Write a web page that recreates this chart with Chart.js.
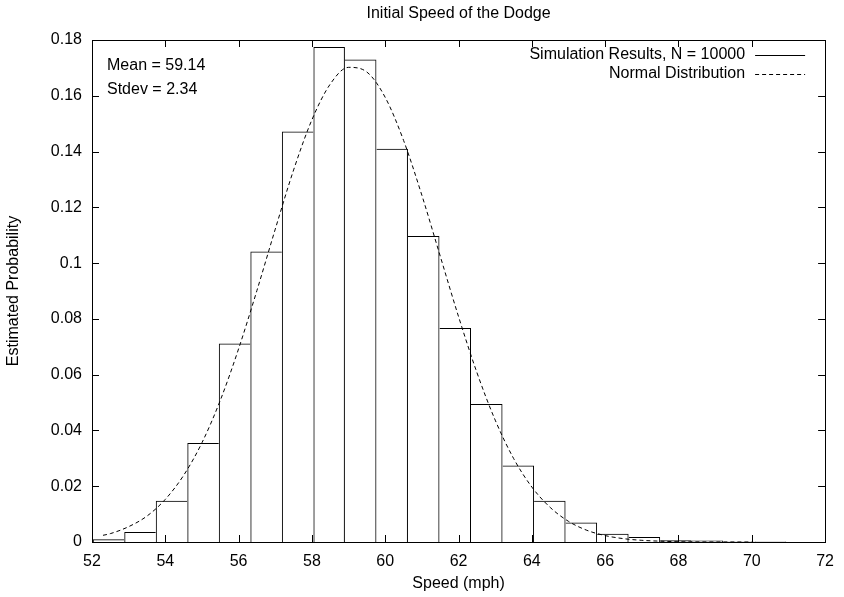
<!DOCTYPE html>
<html>
<head>
<meta charset="utf-8">
<script src="https://cdn.jsdelivr.net/npm/chart.js@4.4.0/dist/chart.umd.min.js"></script>
<style>
  html, body { margin: 0; padding: 0; background: #fff; }
  #wrap { width: 844px; height: 597px; }
</style>
</head>
<body>
<div id="wrap"><canvas id="histChart"></canvas></div>
<script>
// histogram: bin centres (bins are ~0.86 mph wide) and estimated probability
var binCenters = [52.45, 53.31, 54.17, 55.03, 55.89, 56.75, 57.61, 58.47, 59.33, 60.19, 61.05,
                  61.91, 62.77, 63.63, 64.49, 65.35, 66.21, 67.07, 67.93, 68.79, 69.65, 70.51];
var binProbs = [0.0010, 0.0036, 0.0148, 0.0355, 0.0712, 0.1042, 0.1472, 0.1775, 0.1730, 0.1410, 0.1097,
                0.0767, 0.0495, 0.0274, 0.0148, 0.0070, 0.0030, 0.0018, 0.0006, 0.0005, 0.0002, 0.0002];

// normal distribution curve
var curveX = [52.3, 52.5, 53, 53.5, 54, 54.5, 55, 55.5, 56, 56.5, 57, 57.5, 58, 58.5, 59, 59.5, 60,
              60.5, 61, 61.5, 62, 62.5, 63, 63.5, 64, 64.5, 65, 65.5, 66, 66.5, 67, 67.5, 68, 69, 70];
var curveY = [0.0024, 0.0030, 0.0055, 0.0093, 0.0153, 0.0239, 0.0356, 0.0508, 0.0693, 0.0902, 0.1122,
              0.1334, 0.1514, 0.1642, 0.1702, 0.1685, 0.1594, 0.1440, 0.1243, 0.1025, 0.0808, 0.0608,
              0.0437, 0.0300, 0.0197, 0.0124, 0.0074, 0.0042, 0.0023, 0.0012, 0.0006, 0.0003, 0.0001,
              0.00002, 0.0];

var xTicks = [52, 54, 56, 58, 60, 62, 64, 66, 68, 70, 72];
var yTicks = [0, 0.02, 0.04, 0.06, 0.08, 0.1, 0.12, 0.14, 0.16, 0.18];

var statLines = ["Mean = 59.14", "Stdev = 2.34"];
var legendLabels = ["Simulation Results, N = 10000", "Normal Distribution"];

var FONT = '"Liberation Sans", Arial, Helvetica, sans-serif';
var tickLen = 7;

// gnuplot style frame: box, inward ticks on all sides, key and stats text
var gnuFrame = {
  id: "gnuFrame",
  afterDatasetsDraw: function (chart) {
    var ctx = chart.ctx;
    var a = chart.chartArea;
    var xs = chart.scales.x;
    var ys = chart.scales.y;
    ctx.save();
    ctx.strokeStyle = "#000";
    ctx.lineWidth = 1;
    ctx.setLineDash([]);
    ctx.beginPath();
    xTicks.forEach(function (v) {
      var px = Math.round(xs.getPixelForValue(v)) + 0.5;
      ctx.moveTo(px, a.bottom);
      ctx.lineTo(px, a.bottom - tickLen);
      ctx.moveTo(px, a.top);
      ctx.lineTo(px, a.top + tickLen);
    });
    yTicks.forEach(function (v) {
      var py = Math.round(ys.getPixelForValue(v)) + 0.5;
      ctx.moveTo(a.left, py);
      ctx.lineTo(a.left + tickLen, py);
      ctx.moveTo(a.right, py);
      ctx.lineTo(a.right - tickLen, py);
    });
    ctx.stroke();
    ctx.strokeRect(Math.round(a.left) + 0.5, Math.round(a.top) + 0.5,
                   Math.round(a.right - a.left), Math.round(a.bottom - a.top));

    ctx.fillStyle = "#000";
    ctx.font = "16px " + FONT;
    ctx.textBaseline = "middle";
    ctx.textAlign = "left";
    ctx.fillText(statLines[0], a.left + 15, a.top + 26);
    ctx.fillText(statLines[1], a.left + 15, a.top + 50);

    // key
    ctx.textAlign = "right";
    ctx.fillText(legendLabels[0], a.right - 80, a.top + 15);
    ctx.fillText(legendLabels[1], a.right - 80, a.top + 34);
    ctx.beginPath();
    ctx.moveTo(a.right - 70, a.top + 15.5);
    ctx.lineTo(a.right - 20, a.top + 15.5);
    ctx.stroke();
    ctx.setLineDash([4, 3]);
    ctx.beginPath();
    ctx.moveTo(a.right - 70, a.top + 34.5);
    ctx.lineTo(a.right - 20, a.top + 34.5);
    ctx.stroke();
    ctx.restore();
  }
};

// draw each shared bar edge only once, by the taller neighbour
function edgeWidths(context) {
  var i = context.dataIndex;
  var h = binProbs[i];
  var prev = i > 0 ? binProbs[i - 1] : -1;
  var next = i < binProbs.length - 1 ? binProbs[i + 1] : -1;
  return {
    top: 1,
    left: h >= prev ? 1 : 0,
    right: h > next ? 1 : 0,
    bottom: 0
  };
}

var ctx = document.getElementById("histChart").getContext("2d");

var histData = binCenters.map(function (c, i) { return { x: c, y: binProbs[i] }; });
var curveData = curveX.map(function (c, i) { return { x: c, y: curveY[i] }; });

var myChart = new Chart(ctx, {
  type: "bar",
  data: {
    datasets: [
      {
        type: "bar",
        label: legendLabels[0],
        data: histData,
        backgroundColor: "rgba(0,0,0,0)",
        borderColor: "#000",
        borderWidth: edgeWidths,
        borderSkipped: false,
        barPercentage: 1,
        categoryPercentage: 1,
        inflateAmount: 0,
        order: 2
      },
      {
        type: "line",
        label: legendLabels[1],
        data: curveData,
        borderColor: "#000",
        borderWidth: 1,
        borderDash: [4, 3],
        pointRadius: 0,
        fill: false,
        cubicInterpolationMode: "monotone",
        order: 1
      }
    ]
  },
  options: {
    responsive: true,
    maintainAspectRatio: false,
    animation: false,
    layout: { padding: { left: 0, right: 12, top: 0, bottom: 0 } },
    plugins: {
      legend: { display: false },
      tooltip: { enabled: false },
      title: {
        display: true,
        text: "Initial Speed of the Dodge",
        fullSize: false,
        color: "#000",
        font: { family: FONT, size: 16, weight: "normal" },
        padding: { top: 4, bottom: 16.8 }
      }
    },
    scales: {
      x: {
        type: "linear",
        min: 52,
        max: 72,
        offset: false,
        grid: { display: false, drawTicks: false },
        border: { display: false },
        afterBuildTicks: function (scale) {
          scale.ticks = xTicks.map(function (v) { return { value: v }; });
        },
        afterFit: function (scale) { scale.height = 55; },
        ticks: {
          color: "#000",
          padding: 10,
          maxRotation: 0,
          font: { family: FONT, size: 16 }
        },
        title: {
          display: true,
          text: "Speed (mph)",
          color: "#000",
          font: { family: FONT, size: 16 },
          padding: { top: 4, bottom: 4 }
        }
      },
      y: {
        type: "linear",
        min: 0,
        max: 0.18,
        grid: { display: false, drawTicks: false },
        border: { display: false },
        afterBuildTicks: function (scale) {
          scale.ticks = yTicks.map(function (v) { return { value: v }; });
        },
        afterFit: function (scale) { scale.width = 92; },
        ticks: {
          color: "#000",
          padding: 10,
          font: { family: FONT, size: 16 },
          callback: function (v) { return String(+v.toFixed(2)); }
        },
        title: {
          display: true,
          text: "Estimated Probability",
          color: "#000",
          font: { family: FONT, size: 16 },
          padding: { top: 4, bottom: 4 }
        }
      }
    }
  },
  plugins: [gnuFrame]
});
</script>
</body>
</html>
